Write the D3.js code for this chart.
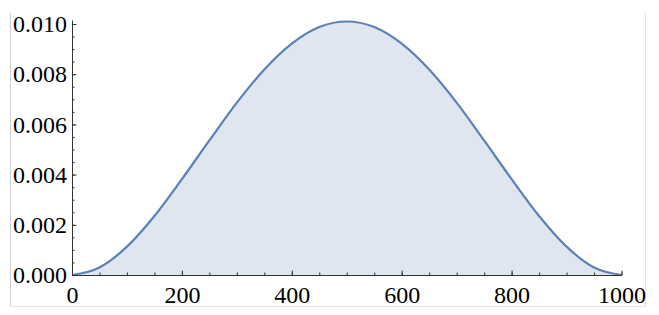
<!DOCTYPE html>
<html>
<head>
<meta charset="utf-8">
<script src="https://cdn.jsdelivr.net/npm/d3@7"></script>
<style>
    html, body { margin: 0; padding: 0; background: #fff; }
    svg { display: block; }
</style>
</head>
<body>
<div id="chart"></div>
<script>
// values
const xValues = [0, 50, 100, 150, 200, 250, 300, 350, 400, 450, 500,
                 550, 600, 650, 700, 750, 800, 850, 900, 950, 1000];
const yValues = [0, 0.00030, 0.00113, 0.00235, 0.00382, 0.00536, 0.00687, 0.00819, 0.00922, 0.00988, 0.0101,
                 0.00988, 0.00922, 0.00819, 0.00687, 0.00536, 0.00382, 0.00235, 0.00113, 0.00030, 0];

const xMajorTicks = [0, 200, 400, 600, 800, 1000];
const yMajorTicks = [0, 0.002, 0.004, 0.006, 0.008, 0.010];

const width = 659, height = 315;
const lineColor = '#5e81b5';

const svg = d3.select('#chart')
    .append('svg')
    .attr('width', width)
    .attr('height', height);

// faint frame around the image
svg.append('path')
    .attr('d', 'M10.5,13 V306.5 H645.5 V13')
    .attr('fill', 'none')
    .attr('stroke', '#e4e4e4')
    .attr('stroke-width', 1);
svg.append('line')
    .attr('x1', 10.5).attr('x2', 10.5).attr('y1', 13).attr('y2', 306)
    .attr('stroke', '#cfcfcf');

const xScale = d3.scaleLinear().domain([0, 1000]).range([72, 621.5]);
const yScale = d3.scaleLinear().domain([0, 0.01016]).range([275, 20]);

const data = xValues.map((x, i) => ({ x: x, y: yValues[i] }));

// filling down to the axis
const area = d3.area()
    .x(d => xScale(d.x))
    .y0(yScale(0))
    .y1(d => yScale(d.y))
    .curve(d3.curveMonotoneX);

svg.append('path')
    .datum(data)
    .attr('fill', lineColor)
    .attr('fill-opacity', 0.2)
    .attr('d', area);

const line = d3.line()
    .x(d => xScale(d.x))
    .y(d => yScale(d.y))
    .curve(d3.curveMonotoneX);

svg.append('path')
    .datum(data)
    .attr('fill', 'none')
    .attr('stroke', lineColor)
    .attr('stroke-width', 2.2)
    .attr('d', line);

// axes, ticks point inward like Mathematica
const axisColor = '#333';
const fontFamily = '"Liberation Serif", "Times New Roman", serif';

const xAxis = svg.append('g').attr('transform', `translate(0,${yScale(0)})`);
xAxis.append('g')
    .call(d3.axisBottom(xScale).tickValues(d3.range(0, 1001, 50)).tickSize(-2.5).tickFormat(''))
    .call(g => g.select('.domain').remove());
xAxis.append('g')
    .call(d3.axisBottom(xScale).tickValues(xMajorTicks).tickSize(-4.5).tickSizeOuter(0).tickPadding(11)
        .tickFormat(d3.format('d')))
    .call(g => g.selectAll('text')
        .style('font-family', fontFamily)
        .style('font-size', '24px')
        .attr('fill', '#000'));

const yAxis = svg.append('g').attr('transform', `translate(${xScale(0)},0)`);
yAxis.append('g')
    .call(d3.axisLeft(yScale).tickValues(d3.range(0, 0.01001, 0.0005)).tickSize(-2.5).tickFormat(''))
    .call(g => g.select('.domain').remove());
yAxis.append('g')
    .call(d3.axisLeft(yScale).tickValues(yMajorTicks).tickSize(-4.5).tickSizeOuter(0).tickPadding(5)
        .tickFormat(d3.format('.3f')))
    .call(g => g.selectAll('text')
        .style('font-family', fontFamily)
        .style('font-size', '24px')
        .attr('fill', '#000'));

svg.selectAll('.domain, .tick line')
    .attr('stroke', axisColor)
    .attr('stroke-width', 1);
</script>
</body>
</html>
